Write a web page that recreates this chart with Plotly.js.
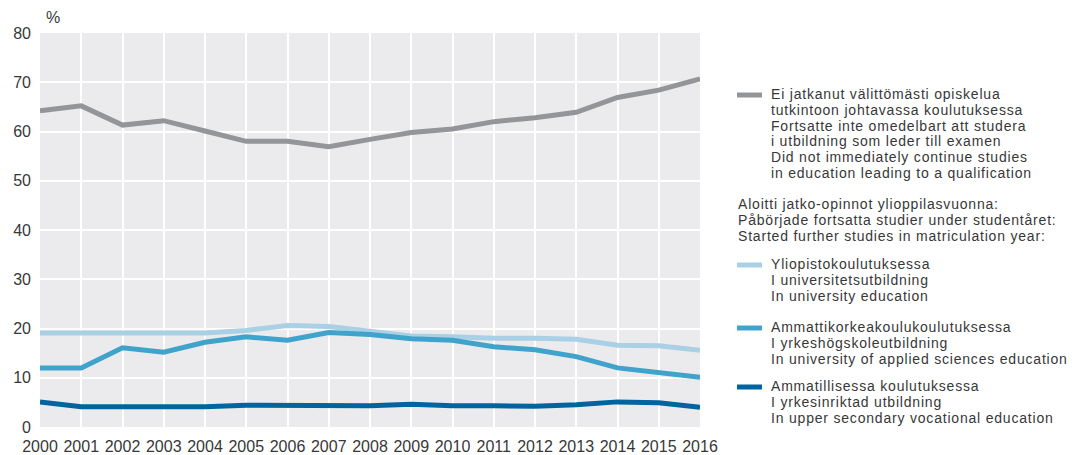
<!DOCTYPE html>
<html><head><meta charset="utf-8">
<script src="https://cdn.plot.ly/plotly-3.0.1.min.js"></script>
<style>body{margin:0;background:#fff}#chart{width:1081px;height:455px}
#chart .annotation-text{letter-spacing:0.8px}</style>
</head><body><div id="chart"></div>
<script>
const years = [2000,2001,2002,2003,2004,2005,2006,2007,2008,2009,2010,2011,2012,2013,2014,2015,2016];
const notContinued = [64.2,65.2,61.3,62.2,60.1,58.0,58.0,56.9,58.4,59.8,60.5,62.0,62.8,63.9,66.9,68.4,70.7];
const university = [19.1,19.1,19.1,19.1,19.1,19.6,20.6,20.4,19.4,18.5,18.3,18.0,18.0,17.8,16.6,16.5,15.6];
const appliedSciences = [12.0,12.0,16.1,15.2,17.2,18.3,17.6,19.2,18.8,17.9,17.6,16.3,15.7,14.3,12.0,11.0,10.1];
const vocational = [5.1,4.1,4.1,4.1,4.1,4.4,4.3,4.3,4.3,4.6,4.3,4.3,4.2,4.5,5.1,4.9,4.0];
const yTicks = [0,10,20,30,40,50,60,70,80];

const colors = ['#939598','#a9d0e5','#40a3cc','#00649f'];
const seriesData = [notContinued, university, appliedSciences, vocational];
const legendBlocks = [
  {swatch:0, y:94, lines:['Ei jatkanut välittömästi opiskelua','tutkintoon johtavassa koulutuksessa','Fortsatte inte omedelbart att studera','i utbildning som leder till examen','Did not immediately continue studies','in education leading to a qualification']},
  {swatch:-1, y:204, lines:['Aloitti jatko-opinnot ylioppilasvuonna:','Påbörjade fortsatta studier under studentåret:','Started further studies in matriculation year:']},
  {swatch:1, y:264, lines:['Yliopistokoulutuksessa','I universitetsutbildning','In university education']},
  {swatch:2, y:327, lines:['Ammattikorkeakoulukoulutuksessa','I yrkeshögskoleutbildning','In university of applied sciences education']},
  {swatch:3, y:386, lines:['Ammatillisessa koulutuksessa','I yrkesinriktad utbildning','In upper secondary vocational education']}
];

const L = 40, R = 700, T = 33, B = 427;
const px = x => (x - L) / (R - L);
const py = y => (B - y) / (B - T);
const lineGap = 15.8;
const legendFont = {family:'Liberation Sans, Arial, sans-serif', size:14, color:'#383838'};

const traces = seriesData.map((d,i)=>({
  x: years, y: d, type:'scatter', mode:'lines',
  line:{color:colors[i], width:5}, showlegend:false, hoverinfo:'skip'
}));

const annotations = [];
const shapes = [];
legendBlocks.forEach(b=>{
  const tx = b.swatch >= 0 ? 769 : 736;
  b.lines.forEach((t,k)=>{
    annotations.push({xref:'paper', yref:'paper', x:px(tx), y:py(b.y + k*lineGap),
      xanchor:'left', yanchor:'middle', align:'left', showarrow:false, text:t, font:legendFont});
  });
  if (b.swatch >= 0) {
    shapes.push({type:'line', xref:'paper', yref:'paper', x0:px(737), x1:px(762),
      y0:py(b.y+1), y1:py(b.y+1), line:{color:colors[b.swatch], width:5}});
  }
});
annotations.push({xref:'paper', yref:'paper', x:px(44), y:py(18), xanchor:'left', yanchor:'middle',
  align:'left', showarrow:false, text:'%', font:{family:'Liberation Sans, Arial, sans-serif', size:16, color:'#383838'}});

const layout = {
  width:1081, height:455,
  margin:{l:L, r:1081-R, t:T, b:455-B, pad:0},
  paper_bgcolor:'#ffffff', plot_bgcolor:'#ebebed',
  font:{family:'Liberation Sans, Arial, sans-serif', size:16, color:'#383838'},
  xaxis:{range:[2000,2016], tickvals:years, ticktext:years.map(String), showgrid:true,
    gridcolor:'#ffffff', gridwidth:2, zeroline:false, showline:false, ticks:'',
    ticklabelstandoff:8, tickfont:{size:16, color:'#383838'}, fixedrange:true},
  yaxis:{range:[0,80], tickvals:yTicks, showgrid:true, gridcolor:'#ffffff', gridwidth:2,
    zeroline:false, showline:false, ticks:'', ticklabelstandoff:8,
    tickfont:{size:16, color:'#383838'}, fixedrange:true},
  annotations, shapes
};
Plotly.newPlot('chart', traces, layout, {displayModeBar:false, staticPlot:true});
</script></body></html>
